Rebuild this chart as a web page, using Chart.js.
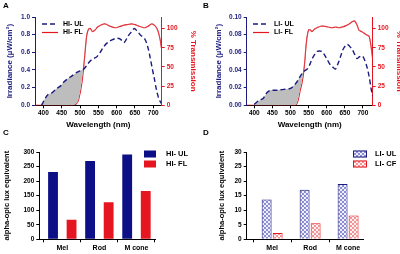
<!DOCTYPE html>
<html>
<head>
<meta charset="utf-8">
<script src="https://cdn.jsdelivr.net/npm/chart.js@4"></script>
<style>
  html, body { margin: 0; padding: 0; background: #fff; overflow: hidden; }
  #wrap { position: relative; width: 400px; height: 254px; }
  canvas { position: absolute; }
  .tag { position: absolute; font: bold 8px "Liberation Sans", Arial, sans-serif; color: #000; }
</style>
</head>
<body>
<div id="wrap">
  <canvas id="chartA" width="200" height="132" style="left:0;top:0"></canvas>
  <canvas id="chartB" width="206" height="132" style="left:200px;top:0"></canvas>
  <canvas id="chartC" width="200" height="127" style="left:0;top:127px"></canvas>
  <canvas id="chartD" width="200" height="127" style="left:200px;top:127px"></canvas>
  <div class="tag" style="left:3px;top:1px">A</div>
  <div class="tag" style="left:203px;top:1px">B</div>
  <div class="tag" style="left:3px;top:128px">C</div>
  <div class="tag" style="left:203px;top:128px">D</div>
</div>
<script>
// ---- panel A: high intensity ----
const hiUlNm  = [395, 405, 412, 423, 436, 447, 455, 466, 477, 490, 500, 510, 518, 527, 537, 546, 555, 564, 575, 587, 600, 610, 620, 632, 640, 648, 656, 664, 677, 685, 691, 697, 703, 709, 714, 718, 722];
const hiUlIrr = [0.00, 0.08, 0.12, 0.14, 0.19, 0.22, 0.26, 0.30, 0.33, 0.37, 0.39, 0.41, 0.45, 0.50, 0.53, 0.55, 0.60, 0.66, 0.71, 0.74, 0.76, 0.75, 0.71, 0.79, 0.83, 0.87, 0.84, 0.80, 0.75, 0.66, 0.55, 0.42, 0.30, 0.17, 0.09, 0.05, 0.02];
const hiFlNm    = [378, 480, 490, 496, 505, 512, 518, 523, 528, 534, 541, 548, 555, 568, 582, 596, 605, 614, 628, 641, 650, 659, 668, 677, 686, 696, 705, 710, 714, 719, 722];
const hiFlTrans = [0, 0, 2, 7, 29, 60, 90, 99, 100, 96, 98, 102, 104, 106, 103, 101, 102, 103.5, 105, 106, 105, 103.5, 102, 101, 103, 106, 103.5, 100, 95, 85, 75];

// ---- panel B: low intensity ----
const liUlNm  = [400, 408, 416, 425, 434, 444, 457, 470, 481, 499, 506, 513, 520, 527, 536, 546, 552, 559, 566, 573, 580, 587, 594, 601, 608, 615, 624, 631, 638, 646, 656, 663, 671, 678, 684, 691, 698, 703, 710, 717, 723, 727];
const liUlIrr = [0.001, 0.004, 0.006, 0.008, 0.014, 0.017, 0.017, 0.0175, 0.018, 0.019, 0.021, 0.024, 0.028, 0.033, 0.038, 0.041, 0.045, 0.052, 0.057, 0.061, 0.0615, 0.061, 0.057, 0.052, 0.047, 0.044, 0.041, 0.047, 0.055, 0.064, 0.069, 0.067, 0.063, 0.057, 0.053, 0.055, 0.056, 0.053, 0.045, 0.033, 0.018, 0.01];
const liFlNm    = [379, 513, 520, 527, 532, 536, 540, 542, 546, 550, 555, 559, 566, 573, 583, 592, 603, 615, 625, 633, 643, 652, 662, 671, 676, 680, 685, 689, 696, 703, 709, 717, 722, 727];
const liFlTrans = [0, 0, 5, 20, 30, 42, 60, 73, 90, 98, 98, 96, 99, 101, 103, 103, 102, 101, 102, 101, 102, 103.5, 106, 109, 110, 108, 103, 98, 96, 94, 92, 90, 78, 60];

const nmTicks = [400, 450, 500, 550, 600, 650, 700];

// ---- panels C and D ----
const cones = ['Mel', 'Rod', 'M cone'];
const hiUL = [231, 269, 291];
const hiFL = [67, 127, 166];
const liUL = [13.7, 17, 19];
const liCF = [2.2, 5.5, 8.2];

const NAVY = '#1c1c80';
const BAR_NAVY = '#0d0f86';
const RED = '#e5161f';
const FONT = '"Liberation Sans", Arial, sans-serif';

Chart.defaults.font.family = FONT;
Chart.defaults.font.size = 6.5;
Chart.defaults.font.weight = 'bold';
Chart.defaults.color = '#000';
Chart.defaults.animation = false;

function pts(xs, ys) {
  return xs.map((x, i) => ({ x: x, y: ys[i] }));
}

// legend drawn inside the panel
const insideLegend = {
  id: 'insideLegend',
  afterDraw(chart, args, opts) {
    const ctx = chart.ctx;
    ctx.save();
    ctx.font = 'bold ' + opts.size + 'px ' + FONT;
    ctx.textBaseline = 'middle';
    chart.data.datasets.forEach((ds, i) => {
      const y = opts.y + i * opts.gap;
      if (opts.kind === 'line') {
        ctx.strokeStyle = ds.borderColor;
        ctx.lineWidth = ds.borderWidth;
        ctx.setLineDash(ds.borderDash || []);
        ctx.beginPath();
        ctx.moveTo(opts.x, y);
        ctx.lineTo(opts.x + opts.w, y);
        ctx.stroke();
        ctx.setLineDash([]);
      } else {
        ctx.fillStyle = ds.backgroundColor;
        ctx.fillRect(opts.x, y - opts.h / 2, opts.w, opts.h);
        if (ds.borderWidth) {
          ctx.strokeStyle = ds.borderColor;
          ctx.lineWidth = 1;
          ctx.strokeRect(opts.x + 0.5, y - opts.h / 2 + 0.5, opts.w - 1, opts.h - 1);
        }
      }
      ctx.fillStyle = '#000';
      ctx.fillText(ds.label, opts.x + opts.w + opts.pad, y);
    });
    ctx.restore();
  }
};

function spectrumConfig(p) {
  return {
    type: 'line',
    data: {
      datasets: [{
        label: p.ulLabel,
        data: pts(p.ulNm, p.ulIrr),
        yAxisID: 'y',
        borderColor: NAVY,
        borderWidth: 1.4,
        borderDash: [5, 3],
        pointRadius: 0,
        tension: 0.3,
        fill: { target: 1, above: '#bdbdbd', below: 'rgba(0,0,0,0)' }
      }, {
        label: p.flLabel,
        data: pts(p.flNm, p.flTrans),
        yAxisID: 'y1',
        borderColor: RED,
        borderWidth: 1.2,
        pointRadius: 0,
        tension: 0.3
      }]
    },
    options: {
      responsive: false,
      layout: { padding: { top: 17, left: p.padLeft, right: 0, bottom: 0 } },
      scales: {
        x: {
          type: 'linear',
          min: p.xMin,
          max: p.xMax,
          border: { color: '#000' },
          grid: { drawOnChartArea: false, tickLength: 3, color: '#000' },
          ticks: { padding: 1, maxRotation: 0, autoSkip: false },
          afterBuildTicks: s => { s.ticks = nmTicks.map(v => ({ value: v })); },
          title: { display: true, text: 'Wavelength (nm)', font: { size: 8, weight: 'bold' }, padding: { top: 1, bottom: 2 } },
          afterFit: s => { s.height = 26.7; }
        },
        y: {
          min: 0,
          max: p.yMax,
          border: { color: NAVY },
          grid: { drawOnChartArea: false, tickLength: 3, color: NAVY },
          ticks: { stepSize: p.yStep, color: NAVY, padding: 2, callback: v => v.toFixed(p.dec) },
          title: { display: true, text: 'Irradiance (µW/cm²)', color: NAVY, font: { size: 8, weight: 'bold' }, padding: 2 },
          afterFit: s => { s.width = p.yWidth; }
        },
        y1: {
          position: 'right',
          min: 0,
          max: 115,
          border: { color: RED },
          grid: { drawOnChartArea: false, tickLength: 3, color: RED },
          ticks: { stepSize: 25, includeBounds: false, color: RED, padding: 2 },
          title: { display: true, text: '% Transmission', color: RED, font: { size: 8, weight: 'bold' }, padding: 2 },
          afterFit: s => { s.width = p.y1Width; }
        }
      },
      plugins: {
        legend: { display: false },
        tooltip: { enabled: false },
        insideLegend: { kind: 'line', x: p.legX, y: 24, gap: 8.5, w: 16, pad: 5, size: 7 }
      }
    },
    plugins: [insideLegend]
  };
}

new Chart(document.getElementById('chartA'), spectrumConfig({
  ulLabel: 'HI- UL', flLabel: 'HI- FL',
  ulNm: hiUlNm, ulIrr: hiUlIrr, flNm: hiFlNm, flTrans: hiFlTrans,
  xMin: 377, xMax: 723, yMax: 1, yStep: 0.2, dec: 1,
  padLeft: 3, yWidth: 32, y1Width: 38.3, legX: 42
}));

new Chart(document.getElementById('chartB'), spectrumConfig({
  ulLabel: 'LI- UL', flLabel: 'LI- FL',
  ulNm: liUlNm, ulIrr: liUlIrr, flNm: liFlNm, flTrans: liFlTrans,
  xMin: 379, xMax: 727, yMax: 0.1, yStep: 0.02, dec: 2,
  padLeft: 12, yWidth: 34.7, y1Width: 33.3, legX: 53
}));

function makePattern(fg, bg) {
  const c = document.createElement('canvas');
  c.width = 4;
  c.height = 4;
  const g = c.getContext('2d');
  g.fillStyle = bg;
  g.fillRect(0, 0, 4, 4);
  g.fillStyle = fg;
  g.fillRect(0, 0, 2, 2);
  g.fillRect(2, 2, 2, 2);
  return g.createPattern(c, 'repeat');
}

function barPts(vals) {
  return vals.map((v, i) => ({ x: i, y: v }));
}

function barConfig(p) {
  return {
    type: 'bar',
    data: {
      datasets: [{
        label: p.labels[0],
        data: barPts(p.a),
        backgroundColor: p.fills[0],
        borderColor: p.borders[0],
        borderWidth: p.bw,
        categoryPercentage: p.cat,
        barPercentage: p.bar
      }, {
        label: p.labels[1],
        data: barPts(p.b),
        backgroundColor: p.fills[1],
        borderColor: p.borders[1],
        borderWidth: p.bw,
        categoryPercentage: p.cat,
        barPercentage: p.bar
      }]
    },
    options: {
      responsive: false,
      layout: { padding: { top: 25, left: p.padLeft, right: p.padRight, bottom: 0 } },
      scales: {
        x: {
          type: 'linear',
          min: p.xMin,
          max: p.xMax,
          offset: false,
          border: { color: '#000' },
          grid: { drawOnChartArea: false, tickLength: 3, color: '#000' },
          ticks: { font: { size: 7, weight: 'bold' }, padding: 2, autoSkip: false, maxRotation: 0, callback: v => cones[v] },
          afterBuildTicks: s => { s.ticks = cones.map((c, i) => ({ value: i })); },
          afterFit: s => { s.height = 14.7; }
        },
        y: {
          min: 0,
          max: p.yMax,
          border: { color: '#000' },
          grid: { drawOnChartArea: false, tickLength: 3, color: '#000' },
          ticks: { stepSize: p.yStep, padding: 2 },
          title: { display: true, text: 'alpha-opic lux equivalent', font: { size: 7.5, weight: 'bold' }, padding: 2 },
          afterFit: s => { s.width = p.yWidth; }
        }
      },
      plugins: {
        legend: { display: false },
        tooltip: { enabled: false },
        insideLegend: { kind: 'box', x: p.legX, y: 27, gap: 10, w: p.legW, h: 7, pad: p.legPad, size: 7.5 }
      }
    },
    plugins: [insideLegend]
  };
}

new Chart(document.getElementById('chartC'), barConfig({
  labels: ['HI- UL', 'HI- FL'], a: hiUL, b: hiFL,
  fills: [BAR_NAVY, RED], borders: [BAR_NAVY, RED], bw: 0,
  cat: 1.0, bar: 0.53, yMax: 300, yStep: 50, xMin: -0.62, xMax: 2.5,
  padLeft: 0, padRight: 45, yWidth: 39.3, legX: 144, legW: 12, legPad: 10
}));

new Chart(document.getElementById('chartD'), barConfig({
  labels: ['LI- UL', 'LI- CF'], a: liUL, b: liCF,
  fills: [makePattern('#8c8cd0', '#f0f0fa'), makePattern('#ee9696', '#fdf0f0')],
  borders: [NAVY, RED], bw: 1,
  cat: 0.58, bar: 0.9, yMax: 30, yStep: 5, xMin: -0.67, xMax: 2.4,
  padLeft: 15, padRight: 36.7, yWidth: 31.7, legX: 153, legW: 14, legPad: 8
}));
</script>
</body>
</html>
